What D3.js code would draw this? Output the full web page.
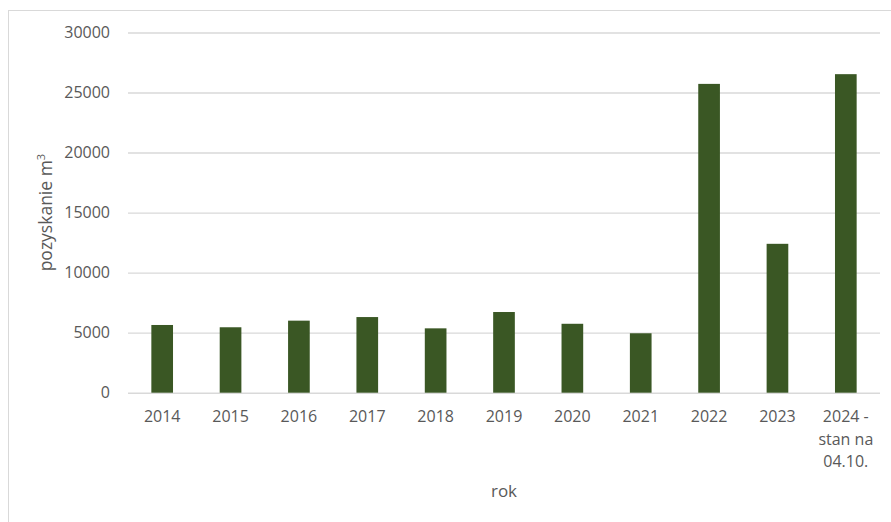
<!DOCTYPE html>
<html>
<head>
<meta charset="utf-8">
<script src="https://cdn.jsdelivr.net/npm/d3@7"></script>
<style>
  html, body { margin: 0; padding: 0; background: #ffffff; }
  svg { display: block; }
  text { font-family: "Open Sans", "Noto Sans", sans-serif; fill: #595959; }
</style>
</head>
<body>
<svg id="chart" width="891" height="522"></svg>
<script>
const categories = ["2014", "2015", "2016", "2017", "2018", "2019", "2020", "2021", "2022", "2023", "2024 -\nstan na\n04.10."];
const values = [5640, 5450, 6000, 6300, 5360, 6720, 5740, 4950, 25720, 12400, 26530];
const yTicks = [0, 5000, 10000, 15000, 20000, 25000, 30000];
const xTitle = "rok";
const yTitle = "pozyskanie m";

const svg = d3.select("#chart");
const plot = { left: 128, right: 880, top: 32.5, bottom: 392.7 };

// outer chart border (only top and left visible in the reference)
svg.append("rect")
  .attr("x", 8.5).attr("y", 10.5)
  .attr("width", 900).attr("height", 600)
  .attr("fill", "none").attr("stroke", "#d9d9d9").attr("stroke-width", 1);

const x = d3.scaleBand()
  .domain(categories)
  .range([plot.left, plot.right])
  .paddingInner(0.683)
  .paddingOuter(0.3415);

const y = d3.scaleLinear()
  .domain([0, 30000])
  .range([plot.bottom, plot.top]);

// y axis with gridlines
const yAxis = d3.axisLeft(y)
  .tickValues(yTicks)
  .tickFormat(d3.format("d"))
  .tickSizeInner(-(plot.right - plot.left))
  .tickSizeOuter(0)
  .tickPadding(18);

const gy = svg.append("g")
  .attr("transform", `translate(${plot.left},0)`)
  .call(yAxis);
gy.select(".domain").remove();
gy.selectAll(".tick line").attr("stroke", "#d9d9d9").attr("stroke-width", 1.4);
gy.selectAll(".tick text")
  .attr("font-size", 16)
  .attr("fill", "#595959")
  .style("font-family", "'Open Sans', 'Noto Sans', sans-serif");

// bars
svg.append("g").selectAll("rect")
  .data(values)
  .join("rect")
  .attr("x", (d, i) => x(categories[i]))
  .attr("width", x.bandwidth())
  .attr("y", d => y(d))
  .attr("height", d => y(0) - y(d))
  .attr("fill", "#3a5724");

// x axis
const xAxis = d3.axisBottom(x).tickSize(0).tickPadding(0).tickFormat("");
const gx = svg.append("g")
  .attr("transform", `translate(0,${plot.bottom})`)
  .call(xAxis);
gx.select(".domain").remove();
gx.selectAll(".tick").each(function(d) {
  const lines = d.split("\n");
  const t = d3.select(this).select("text")
    .attr("y", 0)
    .attr("dy", null)
    .attr("font-size", 16)
    .attr("fill", "#595959")
    .style("font-family", "'Open Sans', 'Noto Sans', sans-serif");
  t.text(null);
  lines.forEach((ln, i) => {
    t.append("tspan")
      .attr("x", 0)
      .attr("y", 29.5 + i * 22.6)
      .text(ln);
  });
});

// axis titles
svg.append("text")
  .attr("x", (plot.left + plot.right) / 2)
  .attr("y", 497)
  .attr("text-anchor", "middle")
  .attr("font-size", 17)
  .text(xTitle);

const yt = svg.append("text")
  .attr("transform", `translate(52,${(plot.top + plot.bottom) / 2}) rotate(-90)`)
  .attr("text-anchor", "middle")
  .attr("font-size", 17.5);
yt.append("tspan").text(yTitle);
yt.append("tspan").attr("font-size", 11).attr("dy", -7).text("3");
</script>
</body>
</html>
